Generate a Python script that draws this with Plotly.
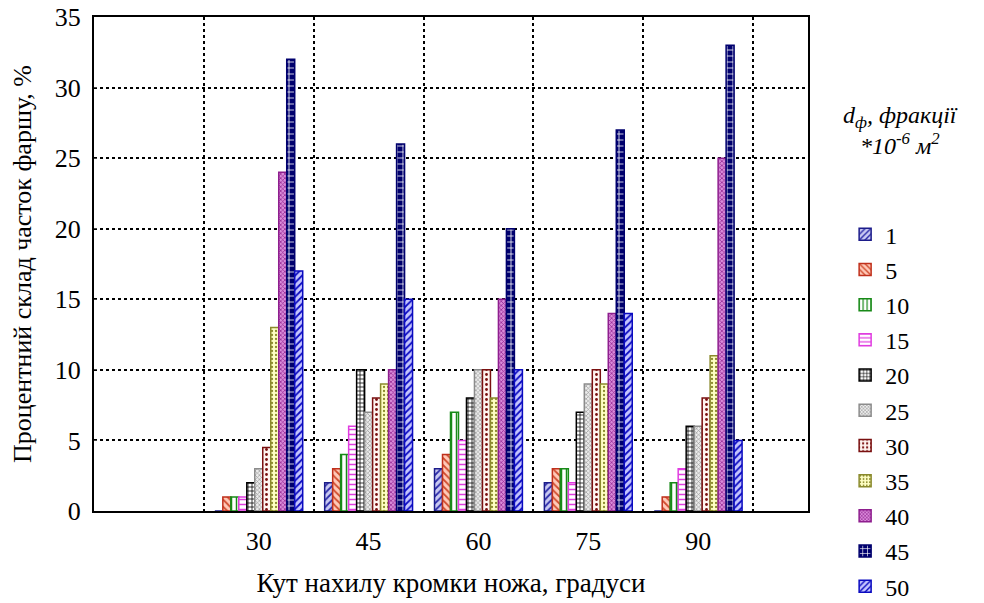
import plotly.graph_objects as go

angles = [30, 45, 60, 75, 90]
fractions = ["1", "5", "10", "15", "20", "25", "30", "35", "40", "45", "50"]

v1 = [0, 2, 3, 2, 0]
v5 = [1, 3, 4, 3, 1]
v10 = [1, 4, 7, 3, 2]
v15 = [1, 6, 5, 2, 3]
v20 = [2, 10, 8, 7, 6]
v25 = [3, 7, 10, 9, 6]
v30 = [4.5, 8, 10, 10, 8]
v35 = [13, 9, 8, 9, 11]
v40 = [24, 10, 15, 14, 25]
v45 = [32, 26, 20, 27, 33]
v50 = [17, 15, 10, 14, 5]
values = [v1, v5, v10, v15, v20, v25, v30, v35, v40, v45, v50]

y_ticks = [0, 5, 10, 15, 20, 25, 30, 35]
x_grid = [22.5, 37.5, 52.5, 67.5, 82.5, 97.5]

# (line color, background, foreground, shape, size, solidity)
styles = [
    ("#1c1c8a", "#c9c9f2", "#2a2aa8", "/", 5, 0.35),
    ("#c0301c", "#ffc9b8", "#d04a2c", "\\", 5, 0.35),
    ("#188a18", "#ffffff", "#188a18", "|", 5, 0.3),
    ("#e03ce0", "#ffffff", "#e03ce0", "-", 5, 0.3),
    ("#000000", "#ffffff", "#000000", "+", 4, 0.35),
    ("#8c8c8c", "#ececec", "#8c8c8c", "x", 3, 0.35),
    ("#7a1010", "#fff4f0", "#7a1010", ".", 5, 0.25),
    ("#8a8a2c", "#ffffc4", "#8a8a2c", ".", 4, 0.25),
    ("#8e1e8e", "#d98ad9", "#8e1e8e", "x", 3, 0.4),
    ("#00006e", "#00006e", "#ffffff", "+", 6, 0.25),
    ("#0a0ac0", "#c4c4ff", "#0a0ac0", "/", 5, 0.35),
]

fig = go.Figure()
for name, vals, st in zip(fractions, values, styles):
    lc, bg, fg, shp, sz, sol = st
    fig.add_trace(go.Bar(
        x=angles, y=vals, name=name, legendgroup=name,
        marker=dict(color=bg, line=dict(color=lc, width=1.5),
                    pattern=dict(shape=shp, fgcolor=fg, bgcolor=bg,
                                 size=sz, solidity=sol, fillmode="replace")),
    ))

font_family = "Liberation Serif, serif"
fig.update_layout(
    width=984, height=603,
    margin=dict(l=94, r=176, t=17, b=92, autoexpand=False),
    paper_bgcolor="white", plot_bgcolor="white",
    barmode="group", bargap=0.2, bargroupgap=0,
    font=dict(family=font_family, size=24, color="black"),
    legend=dict(x=1.052, xanchor="left", y=0.605, yanchor="top",
                font=dict(family=font_family, size=24),
                tracegroupgap=1, bgcolor="rgba(0,0,0,0)"),
    xaxis=dict(range=[7.5, 105], tickvals=angles, ticktext=[str(a) for a in angles],
               showgrid=False, zeroline=False, showline=True, mirror=True,
               linecolor="black", linewidth=2, ticks="", ticklen=0,
               ticklabelstandoff=6,
               tickfont=dict(family=font_family, size=26),
               minor=dict(tickmode="array", tickvals=x_grid, showgrid=True,
                          gridcolor="black", griddash="dot", gridwidth=2, ticks=""),
               title=dict(text="Кут нахилу кромки ножа, градуси",
                          font=dict(family=font_family, size=27), standoff=18)),
    yaxis=dict(range=[0, 35], tickvals=y_ticks, showgrid=True, gridcolor="black",
               griddash="dot", gridwidth=2, zeroline=False, showline=True, mirror=True,
               linecolor="black", linewidth=2, ticks="inside", ticklen=3,
               ticklabelstandoff=6,
               tickfont=dict(family=font_family, size=26),
               title=dict(text="Процентний склад часток фаршу, %",
                          font=dict(family=font_family, size=26), standoff=16)),
    annotations=[dict(
        xref="paper", yref="paper", x=1.13, y=0.77, xanchor="center", yanchor="middle",
        text="<i>d<sub>ф</sub>, фракції<br>*10<sup>-6</sup> м<sup>2</sup></i>",
        showarrow=False, align="center", font=dict(family=font_family, size=24))],
)

fig.write_html("out.html")
